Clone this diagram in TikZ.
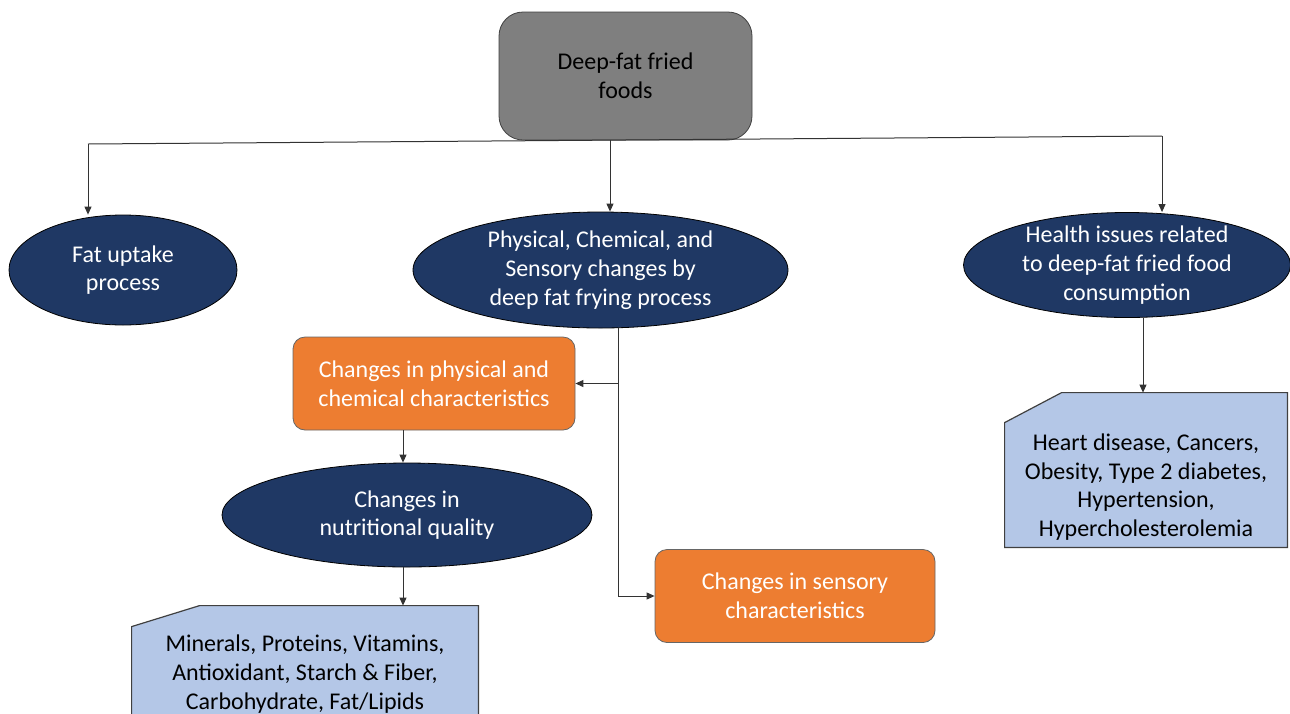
\documentclass[tikz,border=0pt]{standalone}
\usepackage{fontspec}
\setmainfont{Carlito}
\definecolor{friedgray}{RGB}{127, 127, 127}
\definecolor{navyfill}{RGB}{31, 56, 100}
\definecolor{orangefill}{RGB}{237, 125, 49}
\definecolor{listblue}{RGB}{180, 199, 231}
\usetikzlibrary{shapes.geometric, arrows.meta, calc}

\begin{document}
\begin{tikzpicture}[x=0.5pt, y=-0.5pt,
  every node/.style={font=\fontsize{12}{14.4}\selectfont, align=center},
  topbox/.style={rectangle, rounded corners=12pt, draw=black!75, fill=friedgray, minimum width=126.5pt, minimum height=64pt},
  oval/.style={ellipse, draw=black, fill=navyfill, text=white, inner xsep=0pt, inner ysep=-3pt},
  changebox/.style={rectangle, rounded corners=6pt, draw=black!60, fill=orangefill, text=white, minimum height=46.5pt},
  listbox/.style={rectangle, inner sep=0pt, minimum height=77pt},
  listshape/.style={fill=listblue, draw=black!75, line width=0.6pt},
  link/.style={draw=black!80, line width=0.5pt},
  arr/.style={link, -{Triangle[length=4pt, width=3.5pt]}}]
  \useasboundingbox (0,0) rectangle (1290,713);
  \clip (0,0) rectangle (1290,713);

  % Top box
  \node[topbox] (top) at (625.5,76) {Deep-fat fried\\foods};

  % First row
  \node[oval, minimum width=114pt, minimum height=55pt] (fat) at (123,270) {Fat uptake\\process};
  \node[oval, minimum width=187.5pt, minimum height=58pt] (phys) at (600.5,270) {Physical, Chemical, and\\Sensory changes by\\deep fat frying process};
  \node[oval, minimum width=163.5pt, minimum height=52.5pt] (health) at (1127,265) {Health issues related\\to deep-fat fried food\\consumption};

  % Changes
  \node[changebox, minimum width=141pt] (pc) at (434,383.5) {Changes in physical and\\chemical characteristics};
  \node[changebox, minimum width=140pt] (sens) at (795,596) {Changes in sensory\\characteristics};
  \node[oval, minimum width=185pt, minimum height=52pt] (nut) at (407,515) {Changes in\\nutritional quality};

  % Snipped list boxes
  \node[listbox, minimum width=173pt] (nlist) at (305,683) {};
  \filldraw[listshape] (nlist.south west) -- ($(nlist.north west)+(0,21)$) -- ($(nlist.north west)+(68,0)$)
    -- (nlist.north east) -- (nlist.south east) -- cycle;
  \node (nlistText) at ($(nlist.center)+(0,-9)$) {Minerals, Proteins, Vitamins,\\Antioxidant, Starch \& Fiber,\\Carbohydrate, Fat/Lipids};

  \node[listbox, minimum width=141pt] (hlist) at (1146,470) {};
  \filldraw[listshape] (hlist.south west) -- ($(hlist.north west)+(0,30)$) -- ($(hlist.north west)+(57,0)$)
    -- (hlist.north east) -- (hlist.south east) -- cycle;
  \node (hlistText) at ($(hlist.center)+(0,17)$) {Heart disease, Cancers,\\Obesity, Type 2 diabetes,\\Hypertension,\\Hypercholesterolemia};

  % Connectors
  \coordinate (busL) at (88,144);
  \coordinate (busR) at (1162,136);
  \coordinate (drop) at (610,140);
  \coordinate (split) at (618,0);
  \coordinate (nutx) at (403,0);
  \coordinate (hx) at (1143,0);
  \draw[link] (busL) -- (busR);
  \draw[arr] (busL) -- (busL |- fat.north);
  \draw[arr] (drop) -- (drop |- phys.north);
  \draw[arr] (busR) -- (busR |- health.north);
  \draw[arr] (split |- phys.south) |- (sens.west);
  \draw[arr] (split |- pc.east) -- (pc.east);
  \draw[arr] (nutx |- pc.south) -- (nutx |- nut.north);
  \draw[arr] (nutx |- nut.south) -- (nutx |- nlist.north);
  \draw[arr] (hx |- health.south) -- (hx |- hlist.north);
\end{tikzpicture}
\end{document}
